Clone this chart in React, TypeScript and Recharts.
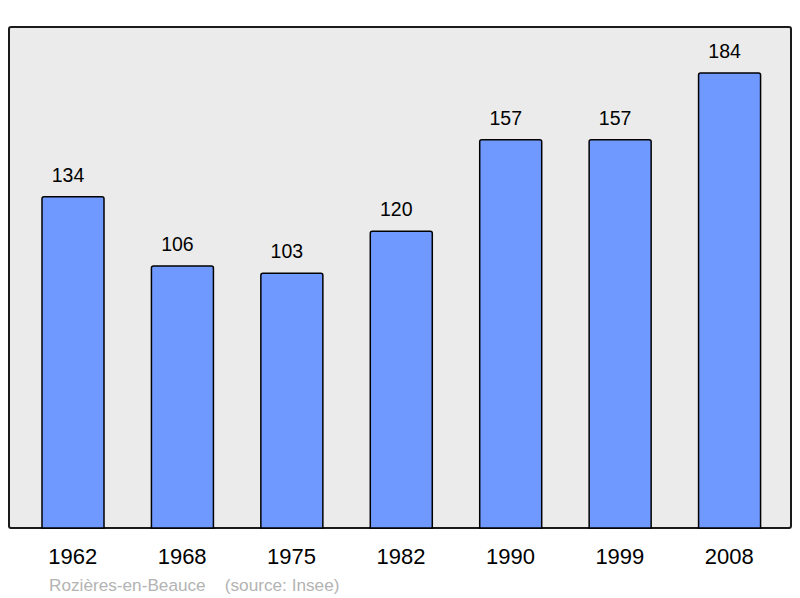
import React from "react";
import { BarChart, Bar, XAxis, YAxis, LabelList } from "recharts";

const years = ["1962", "1968", "1975", "1982", "1990", "1999", "2008"];
const population = [134, 106, 103, 120, 157, 157, 184];
const caption = "Rozières-en-Beauce    (source: Insee)";

const data = years.map((y, i) => ({ year: y, pop: population[i] }));

const FONT = "'Liberation Sans', Arial, sans-serif";

const renderValue = (props: any) => {
  const { x, y, width, value } = props;
  return (
    <text x={x + width / 2 - 5} y={y - 15} textAnchor="middle" fill="#000" fontSize={19.5} fontFamily={FONT}>
      {value}
    </text>
  );
};

export default function App() {
  return (
    <div style={{ position: "absolute", left: 0, top: 0, width: 800, height: 598, background: "#fff", fontFamily: FONT }}>
      <div
        style={{
          position: "absolute",
          left: 8,
          top: 26,
          width: 784,
          height: 503,
          boxSizing: "border-box",
          border: "2px solid #1a1a1a",
          borderRadius: 3,
          background: "#ebebeb",
        }}
      />
      <div style={{ position: "absolute", left: 0, top: 0 }}>
        <BarChart width={800} height={598} data={data} margin={{ top: 27, right: 9, bottom: 0, left: 9 }}>
          <YAxis hide domain={[0, 202.6]} />
          <XAxis
            dataKey="year"
            height={70}
            axisLine={false}
            tickLine={false}
            tickSize={0}
            tickMargin={20}
            padding={{ left: 9, right: 7 }}
            tick={{ fill: "#000", fontSize: 22, fontFamily: FONT }}
            interval={0}
          />
          <Bar dataKey="pop" fill="#7099ff" stroke="#000" strokeWidth={1.5} barSize={62} radius={[2, 2, 0, 0]} isAnimationActive={false}>
            <LabelList dataKey="pop" content={renderValue} />
          </Bar>
        </BarChart>
      </div>
      <div style={{ position: "absolute", left: 49, top: 575, fontSize: 17.2, color: "#b3b3b3", whiteSpace: "pre", fontFamily: FONT, lineHeight: "20px" }}>
        {caption}
      </div>
    </div>
  );
}
